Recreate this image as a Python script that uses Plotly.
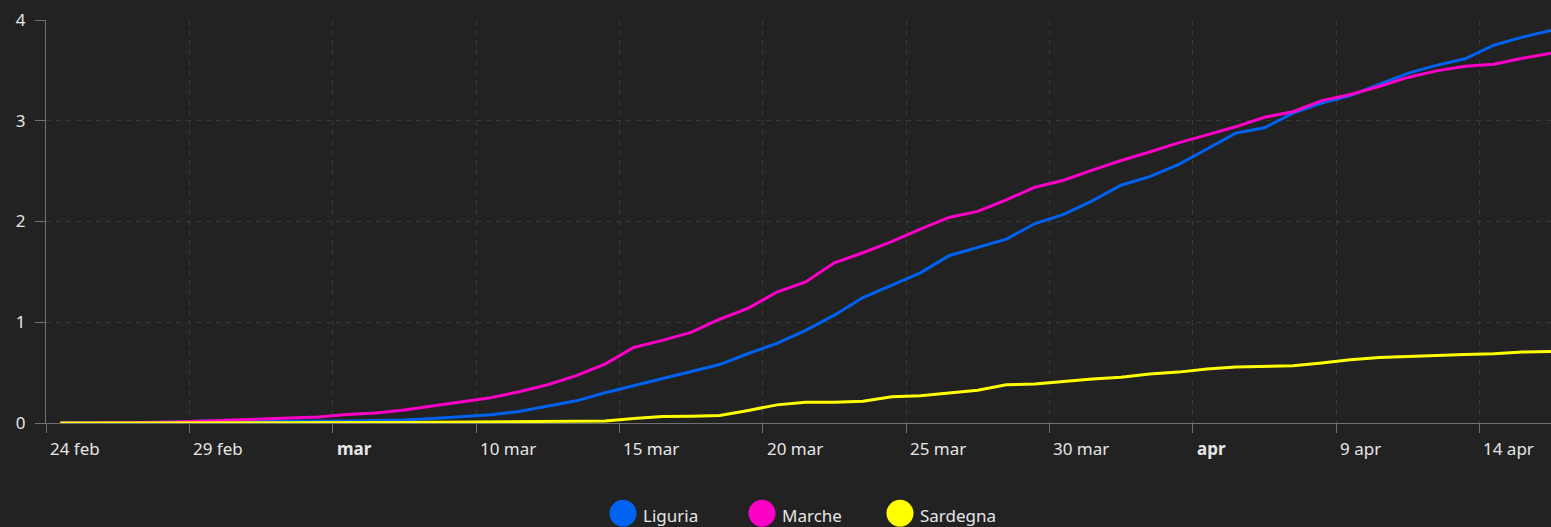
import pandas as pd
import plotly.graph_objects as go

# ---- data ----
start_date = "2020-02-24"
series_names = ["Liguria", "Marche", "Sardegna"]
series_colors = ["#0062f0", "#ff00c8", "#ffff00"]

liguria = [0, 0, 0, 0.005, 0.01, 0.02, 0.015, 0.015, 0.015, 0.02,
           0.02, 0.025, 0.03, 0.045, 0.066, 0.082, 0.115, 0.17, 0.22, 0.30,
           0.37, 0.446, 0.51, 0.58, 0.69, 0.79, 0.92, 1.07, 1.245, 1.37,
           1.49, 1.66, 1.74, 1.825, 1.98, 2.07, 2.205, 2.36, 2.445, 2.565,
           2.72, 2.877, 2.93, 3.075, 3.175, 3.25, 3.36, 3.47, 3.55, 3.615,
           3.75, 3.83, 3.895]
marche = [0, 0, 0, 0.005, 0.01, 0.02, 0.03, 0.04, 0.05, 0.06,
          0.085, 0.10, 0.13, 0.17, 0.21, 0.25, 0.31, 0.38, 0.47, 0.585,
          0.75, 0.82, 0.90, 1.03, 1.14, 1.30, 1.40, 1.59, 1.69, 1.80,
          1.925, 2.04, 2.10, 2.215, 2.34, 2.41, 2.51, 2.605, 2.69, 2.78,
          2.86, 2.94, 3.035, 3.09, 3.20, 3.26, 3.34, 3.43, 3.495, 3.54,
          3.56, 3.62, 3.67]
sardegna = [0, 0, 0, 0, 0, 0.002, 0.003, 0.004, 0.005, 0.005,
            0.005, 0.006, 0.006, 0.008, 0.01, 0.012, 0.015, 0.017, 0.018, 0.02,
            0.045, 0.065, 0.068, 0.075, 0.125, 0.18, 0.205, 0.205, 0.215, 0.26,
            0.27, 0.30, 0.325, 0.38, 0.387, 0.413, 0.437, 0.453, 0.486, 0.505,
            0.536, 0.556, 0.56, 0.568, 0.595, 0.628, 0.65, 0.66, 0.675, 0.68,
            0.687, 0.704, 0.71]
series_values = [liguria, marche, sardegna]

tick_dates = ["2020-02-24", "2020-02-29", "2020-03-05", "2020-03-10", "2020-03-15",
              "2020-03-20", "2020-03-25", "2020-03-30", "2020-04-04", "2020-04-09",
              "2020-04-14"]
tick_labels = ["24 feb", "29 feb", "<b>mar</b>", "10 mar", "15 mar", "20 mar",
               "25 mar", "30 mar", "<b>apr</b>", "9 apr", "14 apr"]
y_ticks = [0, 1, 2, 3, 4]

# ---- figure ----
dates = pd.date_range(pd.Timestamp(start_date) + pd.Timedelta(hours=12),
                      periods=len(liguria), freq="D")

BG = "#222222"
TXT = "#e6e6e6"
FONT = "Noto Sans"
GRID = "#383838"
AXIS = "#707070"

fig = go.Figure()
for name, color, vals in zip(series_names, series_colors, series_values):
    fig.add_trace(go.Scatter(x=dates, y=vals, mode="lines", name=name,
                             line=dict(color=color, width=3), showlegend=False))

x_start = pd.Timestamp(start_date)
x_end = dates[-1]

annotations = []
for d, lab in zip(tick_dates, tick_labels):
    annotations.append(dict(x=d, y=0, xref="x", yref="paper", text=lab,
                            showarrow=False, xanchor="left", yanchor="top",
                            xshift=2, yshift=-12,
                            font=dict(family=FONT, size=17, color=TXT)))

# manual legend (circles + labels)
shapes = []
legend_centers = [623, 762, 900]
plot_left, plot_w = 46, 1505
leg_y = -0.224
for cx, name, color in zip(legend_centers, series_names, series_colors):
    xp = (cx - plot_left) / plot_w
    shapes.append(dict(type="circle", xref="paper", yref="paper",
                       xsizemode="pixel", ysizemode="pixel",
                       xanchor=xp, yanchor=leg_y,
                       x0=-13.5, x1=13.5, y0=-13.5, y1=13.5,
                       fillcolor=color, line=dict(width=0)))
    annotations.append(dict(x=xp, y=leg_y, xref="paper", yref="paper", text=name,
                            showarrow=False, xanchor="left", yanchor="middle",
                            xshift=18, yshift=-2,
                            font=dict(family=FONT, size=17, color=TXT)))

fig.update_layout(
    width=1551, height=527,
    margin=dict(l=46, r=0, t=20, b=104),
    paper_bgcolor=BG, plot_bgcolor=BG,
    font=dict(family=FONT, size=17, color=TXT),
    showlegend=False,
    annotations=annotations,
    shapes=shapes,
    xaxis=dict(
        type="date", range=[x_start, x_end],
        tickvals=tick_dates, showticklabels=False,
        ticks="outside", ticklen=9, tickcolor=AXIS, tickwidth=1,
        showgrid=True, gridcolor=GRID, griddash="5px,5px", gridwidth=1,
        showline=True, linecolor=AXIS, linewidth=1,
        zeroline=False, fixedrange=True,
    ),
    yaxis=dict(
        range=[0, 4], tickvals=y_ticks,
        ticks="outside", ticklen=10, tickcolor=AXIS, tickwidth=1,
        showgrid=True, gridcolor=GRID, griddash="5px,5px", gridwidth=1,
        showline=True, linecolor=AXIS, linewidth=1,
        zeroline=False, ticklabelstandoff=6,
        tickfont=dict(family=FONT, size=17, color=TXT),
    ),
)

fig.write_html("out.html",
               config={"displayModeBar": False},
               post_script="document.body.style.margin='0';"
                           "document.body.style.overflow='hidden';"
                           "document.body.style.background='#222222';")
